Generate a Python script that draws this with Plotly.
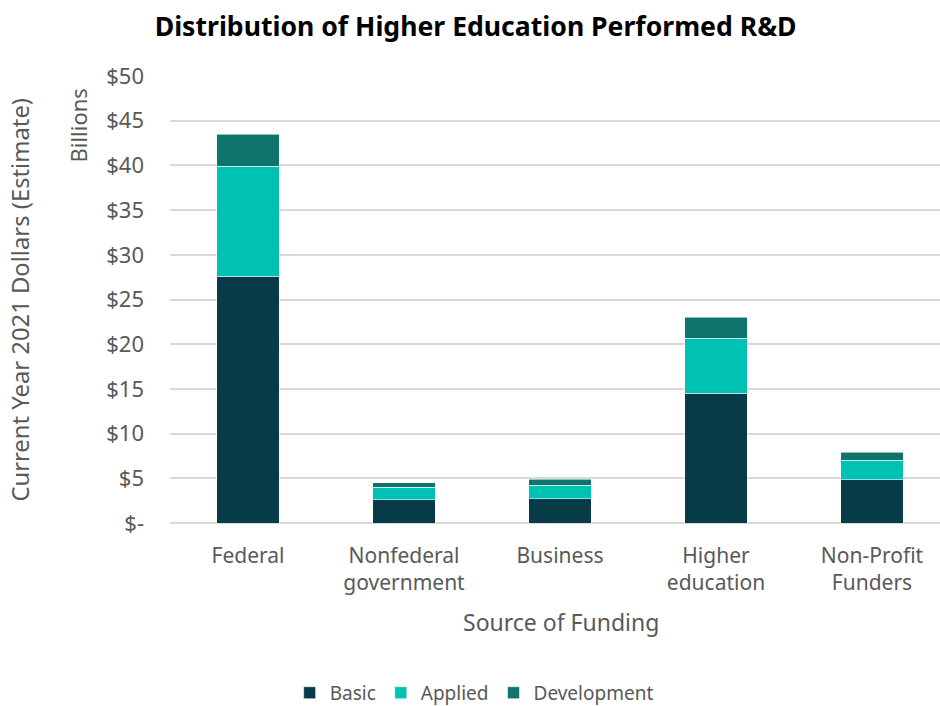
import plotly.graph_objects as go

categories = ["Federal", "Nonfederal<br>government", "Business", "Higher<br>education", "Non-Profit<br>Funders"]
basic = [27.6, 2.6, 2.7, 14.5, 4.85]
applied = [12.3, 1.4, 1.55, 6.15, 2.15]
development = [3.6, 0.5, 0.65, 2.35, 0.9]
tick_vals = [0, 5, 10, 15, 20, 25, 30, 35, 40, 45, 50]
tick_text = ["$-", "$5", "$10", "$15", "$20", "$25", "$30", "$35", "$40", "$45", "$50"]

FONT = "Noto Sans"
GRAY = "#595959"
line = dict(color="rgba(255,255,255,0.55)", width=1)

fig = go.Figure()
fig.add_bar(x=categories, y=basic, name="Basic", marker=dict(color="#073B47", line=line), width=0.4)
fig.add_bar(x=categories, y=applied, name="Applied", marker=dict(color="#00C2B4", line=line), width=0.4)
fig.add_bar(x=categories, y=development, name="Development", marker=dict(color="#0E746C", line=line), width=0.4)

fig.update_layout(
    barmode="stack",
    width=940, height=706,
    margin=dict(l=170, r=0, t=76, b=183, autoexpand=False),
    paper_bgcolor="white", plot_bgcolor="white",
    font=dict(family=FONT, color=GRAY, size=20),
    title=dict(text="<b>Distribution of Higher Education Performed R&D</b>",
               xref="container", x=0.506, xanchor="center",
               yref="container", y=0.962, yanchor="middle",
               font=dict(family=FONT, size=26.6, color="black")),
    legend=dict(orientation="h", x=0.395, xanchor="center", y=-0.38, yanchor="middle",
                font=dict(size=19, color=GRAY), traceorder="normal", itemwidth=30),
    bargap=0.6,
)
fig.update_xaxes(range=[-0.5, 4.436], showgrid=False, showline=False, ticks="",
                 automargin=False,
                 tickfont=dict(size=21, color=GRAY), ticklabelstandoff=18)
fig.update_yaxes(range=[0, 50], tickvals=tick_vals, ticktext=tick_text,
                 automargin=False,
                 showgrid=True, gridcolor="#D9D9D9", gridwidth=1.5,
                 zeroline=True, zerolinecolor="#D9D9D9", zerolinewidth=1.5,
                 tickfont=dict(size=22, color=GRAY), ticklabelstandoff=25)

fig.add_annotation(text="Source of Funding", xref="paper", yref="paper",
                   x=0.508, y=-0.2215, xanchor="center", yanchor="middle",
                   showarrow=False, font=dict(size=23, color=GRAY))
fig.add_annotation(text="Current Year 2021 Dollars (Estimate)", xref="paper", yref="paper",
                   x=-0.196, y=0.5, xanchor="center", yanchor="middle", textangle=-90,
                   showarrow=False, font=dict(size=23.8, color=GRAY))
fig.add_annotation(text="Billions", xref="paper", yref="paper",
                   x=-0.119, y=0.89, xanchor="center", yanchor="middle", textangle=-90,
                   showarrow=False, font=dict(size=22, color=GRAY))

fig.write_html("out.html", config={"displayModeBar": False},
               post_script="document.body.style.margin='0';")
